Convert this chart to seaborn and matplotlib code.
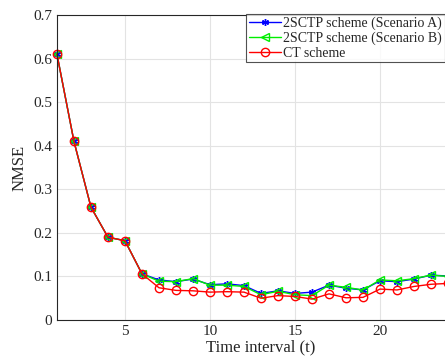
import pandas as pd
import matplotlib
matplotlib.use("Agg")
import matplotlib.pyplot as plt
import seaborn as sns

time_interval = list(range(1, 25))
nmse_scenario_a = [0.610, 0.410, 0.259, 0.190, 0.182, 0.106, 0.092, 0.088, 0.094, 0.081, 0.083, 0.079,
                   0.061, 0.067, 0.061, 0.064, 0.080, 0.073, 0.069, 0.090, 0.088, 0.094, 0.103, 0.101]
nmse_scenario_b = [0.610, 0.410, 0.259, 0.190, 0.182, 0.106, 0.089, 0.088, 0.095, 0.080, 0.080, 0.077,
                   0.058, 0.066, 0.058, 0.056, 0.080, 0.075, 0.069, 0.092, 0.090, 0.095, 0.103, 0.100]
nmse_ct = [0.610, 0.410, 0.259, 0.190, 0.182, 0.106, 0.074, 0.068, 0.067, 0.064, 0.065, 0.064,
           0.050, 0.056, 0.054, 0.048, 0.060, 0.051, 0.052, 0.071, 0.069, 0.077, 0.082, 0.084]
series_names = ["2SCTP scheme (Scenario A)", "2SCTP scheme (Scenario B)", "CT scheme"]

df = pd.DataFrame({
    "t": time_interval * 3,
    "NMSE": nmse_scenario_a + nmse_scenario_b + nmse_ct,
    "scheme": [series_names[0]] * 24 + [series_names[1]] * 24 + [series_names[2]] * 24,
})

sns.set_style("whitegrid")
plt.rcParams["font.family"] = ["Liberation Serif", "DejaVu Serif"]
plt.rcParams["xtick.direction"] = "in"
plt.rcParams["ytick.direction"] = "in"

fig = plt.figure(figsize=(4.45, 3.62), dpi=100)
ax = fig.add_axes([0.128, 0.116, 0.917, 0.8425])

# asterisk marker like matlab's '*'
styles = {
    series_names[0]: dict(color="#0000ff", marker=(6, 2, 0), markersize=5, markerfacecolor="#0000ff"),
    series_names[1]: dict(color="#00ee00", marker="<", markersize=6, markerfacecolor="none"),
    series_names[2]: dict(color="#ff0000", marker="o", markersize=6, markerfacecolor="none"),
}
for name in series_names:
    sub = df[df["scheme"] == name]
    st = styles[name]
    sns.lineplot(data=sub, x="t", y="NMSE", ax=ax, label=name, color=st["color"],
                 marker=st["marker"], markersize=st["markersize"],
                 markerfacecolor=st["markerfacecolor"], markeredgecolor=st["color"],
                 markeredgewidth=1.0, linewidth=1.0, clip_on=False)

ax.set_xlim(1, 25)
ax.set_ylim(0, 0.7)
ax.set_xticks([5, 10, 15, 20])
ax.set_yticks([0, 0.1, 0.2, 0.3, 0.4, 0.5, 0.6, 0.7])
ax.set_yticklabels(["0", "0.1", "0.2", "0.3", "0.4", "0.5", "0.6", "0.7"])
ax.tick_params(labelsize=11, colors="#262626", length=3)
ax.grid(True, color="#e3e3e3", linewidth=0.8)
for s in ax.spines.values():
    s.set_color("#262626")
    s.set_linewidth(0.8)
ax.set_xlabel("Time interval (t)", fontsize=12, labelpad=1)
ax.set_ylabel("NMSE", fontsize=12)

leg = ax.legend(loc="upper right", bbox_to_anchor=(1.0, 0.961), bbox_transform=fig.transFigure,
                fontsize=10, frameon=True, fancybox=False, borderpad=0.2, labelspacing=0.1,
                handlelength=2.3, handletextpad=0.2, borderaxespad=0)
leg.get_frame().set_edgecolor("#262626")
leg.get_frame().set_linewidth(0.8)

fig.savefig("out.png", dpi=100)
